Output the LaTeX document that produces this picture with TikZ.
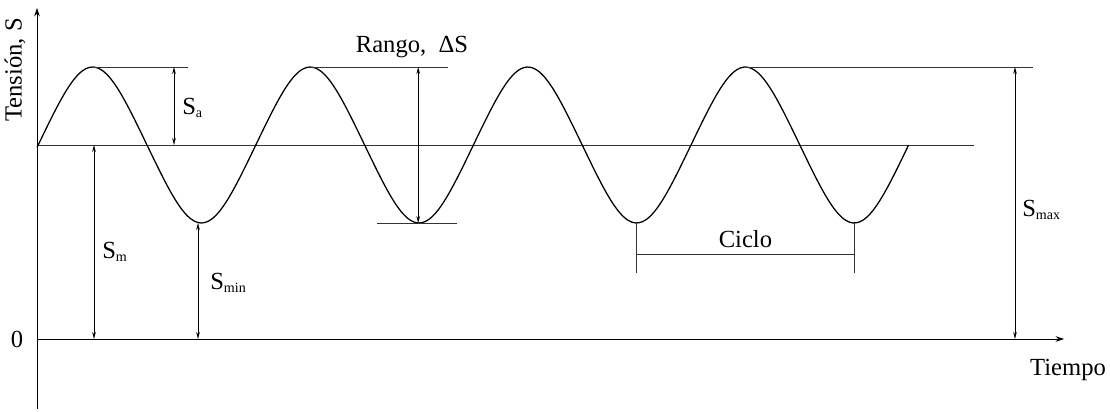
\documentclass[tikz,border=0pt]{standalone}
\usepackage{fontspec}
\setmainfont{Liberation Serif}
\usetikzlibrary{arrows.meta}
\newcommand{\lowidx}[1]{\raisebox{-2pt}{\fontsize{10}{10}\selectfont #1}}

\begin{document}
\begin{tikzpicture}[
    font=\fontsize{17.5}{20}\selectfont,
    axis/.style={line width=0.6pt, -{Stealth[length=6pt,width=4pt]}},
    guide/.style={line width=0.6pt, black!80},
    dim/.style={line width=0.6pt, {Stealth[length=5pt,width=2.6pt]}-{Stealth[length=5pt,width=2.6pt]}},
    wave/.style={line width=0.9pt}
]
    \useasboundingbox (-0.925,-1.8) rectangle (26.825,8.475);

    % axes
    \coordinate (O) at (0,0);
    \coordinate (ybot) at (0,-1.75);
    \coordinate (ytop) at (0,8.275);
    \coordinate (xend) at (25.675,0);
    \draw[axis] (ybot) -- (ytop);
    \draw[axis] (O) -- (xend);
    \node (zero) at (-0.5,0) {0};
    \node (tiempo) at (25.775,-0.775) {Tiempo};
    \node[rotate=90] (tension) at (-0.55,6.725) {Tensión, S};

    % mean stress line
    \coordinate (m0) at (0,4.85);
    \coordinate (m1) at (23.425,4.85);
    \draw[guide] (m0) -- (m1);

    % stress history
    \draw[wave] plot[domain=0:21.79, samples=250, smooth]
        (\x, {4.85 + 1.95*(sin((\x-0.03)/5.44*360) - 0.02*sin(3*((\x-0.03)/5.44*360)))/1.02});

    % amplitude
    \coordinate (p1) at (1.39,6.8);
    \coordinate (p1r) at (3.775,6.8);
    \draw[guide] (p1) -- (p1r);
    \coordinate (sa1) at (3.425,6.8);
    \coordinate (sa0) at (3.425,4.85);
    \draw[dim] (sa1) -- (sa0);
    \node[anchor=west, inner sep=0pt] (lblSa) at (3.625,5.775) {S\lowidx{a}};

    % mean stress
    \coordinate (sm1) at (1.425,4.85);
    \coordinate (sm0) at (1.425,0);
    \draw[dim] (sm1) -- (sm0);
    \node[anchor=west, inner sep=0pt] (lblSm) at (1.625,2.175) {S\lowidx{m}};

    % minimum stress
    \coordinate (smin1) at (4.025,2.9);
    \coordinate (smin0) at (4.025,0);
    \draw[dim] (smin1) -- (smin0);
    \node[anchor=west, inner sep=0pt] (lblSmin) at (4.325,1.4) {S\lowidx{min}};

    % range
    \coordinate (p2) at (6.83,6.8);
    \coordinate (p2r) at (10.275,6.8);
    \coordinate (t2l) at (8.5,2.9);
    \coordinate (t2r) at (10.5,2.9);
    \draw[guide] (p2) -- (p2r);
    \draw[guide] (t2l) -- (t2r);
    \coordinate (r1) at (9.53,6.8);
    \coordinate (r0) at (9.53,2.9);
    \draw[dim] (r1) -- (r0);
    \node (lblRango) at (9.375,7.3) {Rango,\ \ ΔS};

    % maximum stress
    \coordinate (p4) at (17.71,6.8);
    \coordinate (p4r) at (24.9,6.8);
    \draw[guide] (p4) -- (p4r);
    \coordinate (smax1) at (24.45,6.8);
    \coordinate (smax0) at (24.45,0);
    \draw[dim] (smax1) -- (smax0);
    \node[anchor=west, inner sep=0pt] (lblSmax) at (24.625,3.225) {S\lowidx{max}};

    % one cycle
    \coordinate (c1t) at (14.99,2.9);
    \coordinate (c1b) at (14.99,1.65);
    \coordinate (c2t) at (20.43,2.9);
    \coordinate (c2b) at (20.43,1.65);
    \coordinate (c1m) at (14.99,2.125);
    \coordinate (c2m) at (20.43,2.125);
    \draw[guide] (c1t) -- (c1b);
    \draw[guide] (c2t) -- (c2b);
    \draw[guide] (c1m) -- (c2m);
    \node (lblCiclo) at (17.71,2.5) {Ciclo};
\end{tikzpicture}
\end{document}
